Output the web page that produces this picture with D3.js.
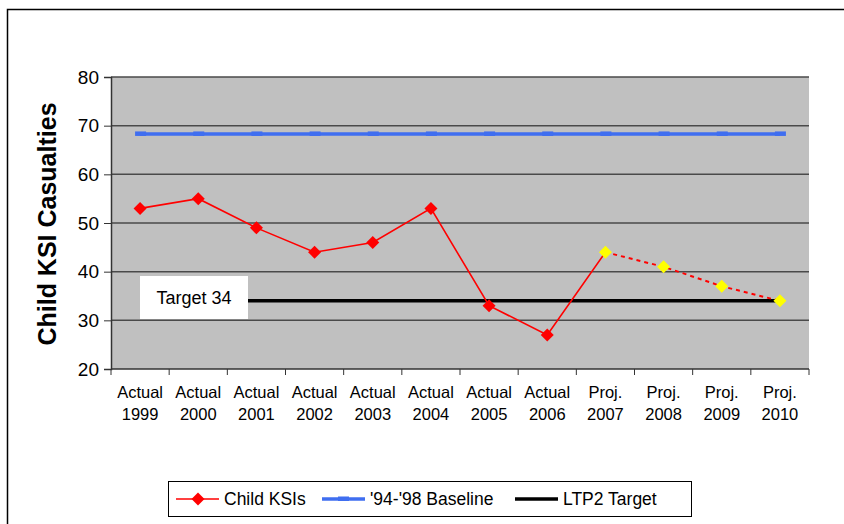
<!DOCTYPE html>
<html><head><meta charset="utf-8">
<script src="https://cdn.jsdelivr.net/npm/d3@7"></script>
<style>body{margin:0;background:#fff;}svg{display:block;font-family:"Liberation Sans",Arial,sans-serif;}</style>
</head><body>
<script>
const categories = ["Actual 1999","Actual 2000","Actual 2001","Actual 2002","Actual 2003","Actual 2004","Actual 2005","Actual 2006","Proj. 2007","Proj. 2008","Proj. 2009","Proj. 2010"];
const childKSIs = [53,55,49,44,46,53,33,27,44,41,37,34];
const projected = [false,false,false,false,false,false,false,false,true,true,true,true];
const baseline = [68.3,68.3,68.3,68.3,68.3,68.3,68.3,68.3,68.3,68.3,68.3,68.3];
const target = [34,34,34,34,34,34,34,34,34,34,34,34];
const yTicks = [20,30,40,50,60,70,80];
const legendLabels = ["Child KSIs","'94-'98 Baseline","LTP2 Target"];

const W=844,H=524;
const m={l:111,r:809,t:77,b:369};
const svg=d3.select("body").append("svg").attr("width",W).attr("height",H);
svg.append("rect").attr("x",7.5).attr("y",9.5).attr("width",W).attr("height",H).attr("fill","#fff").attr("stroke","#000").attr("stroke-width",1.5);

const x=d3.scaleBand().domain(categories).range([m.l,m.r]);
const y=d3.scaleLinear().domain([20,80]).range([m.b,m.t]);
const cx=d=>x(d)+x.bandwidth()/2;

svg.append("rect").attr("x",m.l).attr("y",m.t).attr("width",m.r-m.l).attr("height",m.b-m.t).attr("fill","#c0c0c0");
svg.append("g").selectAll("line").data(yTicks.slice(1)).join("line")
 .attr("x1",m.l).attr("x2",m.r).attr("y1",d=>y(d)).attr("y2",d=>y(d))
 .attr("stroke","#4a4a4a").attr("stroke-width",1.5);

const ya=svg.append("g").attr("transform",`translate(${m.l},0)`)
 .call(d3.axisLeft(y).tickValues(yTicks).tickSize(7).tickPadding(5));
ya.select(".domain").attr("stroke","#333").attr("stroke-width",1.5);
ya.selectAll(".tick line").attr("stroke","#333").attr("stroke-width",1);
ya.selectAll("text").attr("font-size","19px").attr("fill","#000").attr("font-family","Liberation Sans, Arial");

const xa=svg.append("g").attr("transform",`translate(0,${m.b})`);
xa.append("line").attr("x1",m.l).attr("x2",m.r).attr("stroke","#333").attr("stroke-width",1.5);
const bounds=categories.map(c=>x(c)).concat([m.r]);
xa.selectAll("line.tk").data(bounds).join("line").attr("class","tk")
 .attr("x1",d=>d).attr("x2",d=>d).attr("y1",0).attr("y2",6).attr("stroke","#333");
const lab=xa.selectAll("text").data(categories).join("text")
 .attr("x",d=>cx(d)).attr("text-anchor","middle").attr("font-size","16.5px").attr("fill","#000")
 .attr("font-family","'Liberation Sans Narrow', 'Liberation Sans', Arial");
lab.append("tspan").attr("x",d=>cx(d)).attr("y",29).text(d=>d.split(" ")[0]);
lab.append("tspan").attr("x",d=>cx(d)).attr("y",51).text(d=>d.split(" ")[1]);

svg.append("text").attr("transform","translate(56,224) rotate(-90)").attr("text-anchor","middle")
 .attr("font-size","25px").attr("font-weight","bold").text("Child KSI Casualties");

const line=d3.line().x((d,i)=>cx(categories[i])).y(d=>y(d));
svg.append("path").attr("d",line(target)).attr("fill","none").attr("stroke","#000").attr("stroke-width",3.5);
svg.append("path").attr("d",line(baseline)).attr("fill","none").attr("stroke","#3f6ef0").attr("stroke-width",3.5);
svg.append("g").selectAll("rect").data(baseline).join("rect")
 .attr("x",(d,i)=>cx(categories[i])-5).attr("y",d=>y(d)-2.5).attr("width",11).attr("height",4.5).attr("fill","#3f6ef0");

const firstProj=projected.indexOf(true);
const pts=childKSIs.map((v,i)=>[cx(categories[i]),y(v)]);
svg.append("path").attr("d",d3.line()(pts.slice(0,firstProj+1))).attr("fill","none").attr("stroke","#ff0000").attr("stroke-width",1.6);
svg.append("path").attr("d",d3.line()(pts.slice(firstProj))).attr("fill","none").attr("stroke","#ff0000").attr("stroke-width",2).attr("stroke-dasharray","4,4");
const dia="M0,-6.5L6.5,0L0,6.5L-6.5,0Z";
svg.append("g").selectAll("path").data(childKSIs).join("path")
 .attr("transform",(d,i)=>`translate(${pts[i][0]},${pts[i][1]})`)
 .attr("d",dia).attr("fill",(d,i)=>projected[i]?"#ffff00":"#ff0000");

svg.append("rect").attr("x",140).attr("y",276).attr("width",108).attr("height",43).attr("fill","#fff");
svg.append("text").attr("x",194).attr("y",304).attr("text-anchor","middle").attr("font-size","18px").text("Target 34");

const lg=svg.append("g");
lg.append("rect").attr("x",168.5).attr("y",481.5).attr("width",523).attr("height",35).attr("fill","#fff").attr("stroke","#000").attr("stroke-width",1);
const ly=499;
lg.append("line").attr("x1",176).attr("x2",219).attr("y1",ly).attr("y2",ly).attr("stroke","#ff0000").attr("stroke-width",1.6);
lg.append("path").attr("d",dia).attr("transform",`translate(198,${ly})`).attr("fill","#ff0000");
lg.append("text").attr("x",224).attr("y",ly+6).attr("font-size","17.5px").text(legendLabels[0]);
lg.append("line").attr("x1",322).attr("x2",365).attr("y1",ly).attr("y2",ly).attr("stroke","#3f6ef0").attr("stroke-width",3.5);
lg.append("rect").attr("x",338).attr("y",ly-2.5).attr("width",11).attr("height",4.5).attr("fill","#3f6ef0");
lg.append("text").attr("x",370).attr("y",ly+6).attr("font-size","17.5px").text(legendLabels[1]);
lg.append("line").attr("x1",515).attr("x2",558).attr("y1",ly).attr("y2",ly).attr("stroke","#000").attr("stroke-width",3.5);
lg.append("text").attr("x",563).attr("y",ly+6).attr("font-size","17.5px").text(legendLabels[2]);
</script>
</body></html>
